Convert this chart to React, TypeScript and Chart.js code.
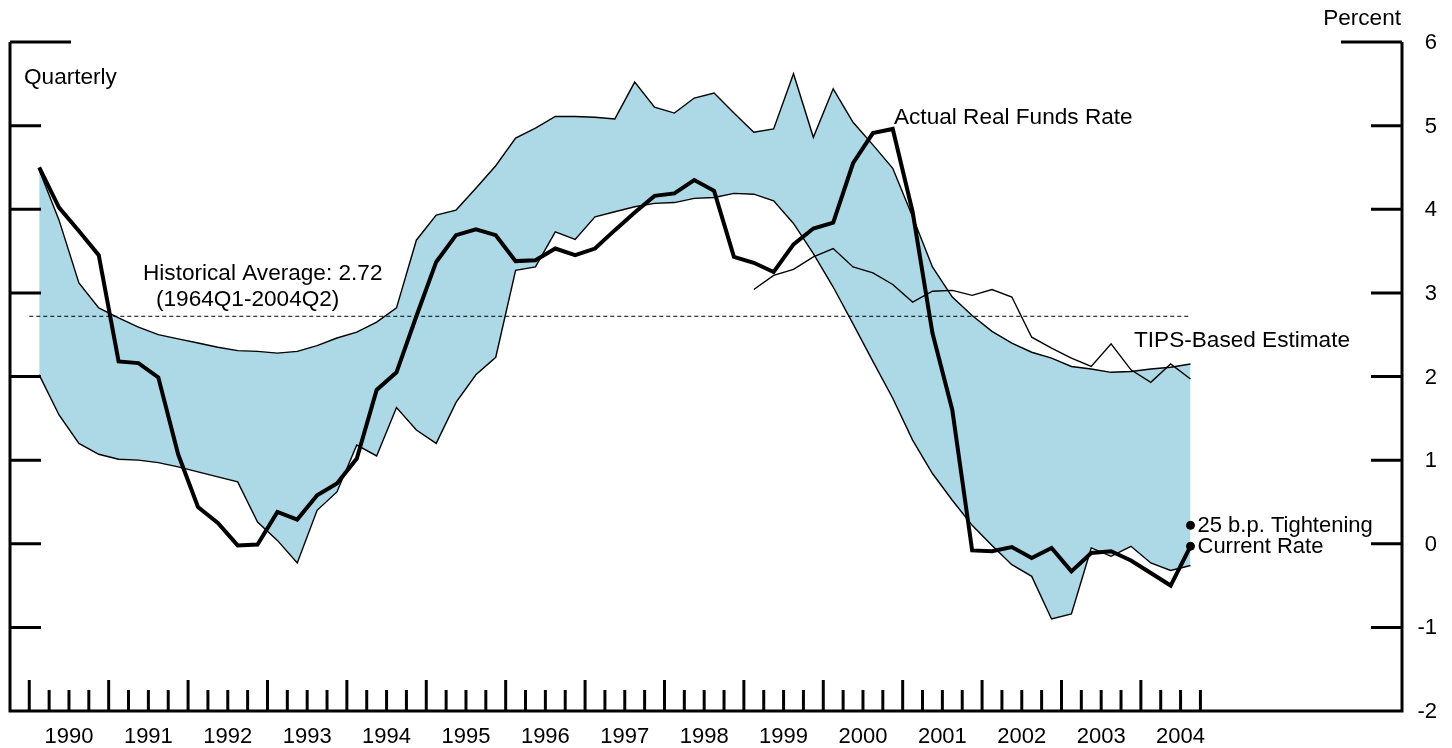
import React, { useEffect, useRef } from "react";
import { Chart, registerables } from "chart.js";

Chart.register(...registerables);

// Quarterly index: 0 = 1990Q1, 58 = 2004Q3
const yearLabels = ["1990", "1991", "1992", "1993", "1994", "1995", "1996", "1997", "1998", "1999", "2000", "2001", "2002", "2003", "2004"];

const actualRealFundsRate = [
  4.5, 4.02, 3.74, 3.45, 2.18, 2.16, 1.99, 1.07, 0.44, 0.25,
  -0.02, -0.01, 0.38, 0.29, 0.58, 0.72, 1.02, 1.84, 2.05, 2.72,
  3.37, 3.69, 3.76, 3.69, 3.38, 3.39, 3.53, 3.45, 3.53, 3.75,
  3.96, 4.16, 4.19, 4.35, 4.22, 3.43, 3.36, 3.25, 3.58, 3.77,
  3.84, 4.55, 4.91, 4.96, 3.97, 2.52, 1.6, -0.08, -0.09, -0.04,
  -0.17, -0.05, -0.33, -0.11, -0.09, -0.2, -0.35, -0.5, -0.03,
];

const bandUpper = [
  4.47, 3.87, 3.12, 2.82, 2.7, 2.59, 2.5, 2.45, 2.4, 2.35,
  2.31, 2.3, 2.28, 2.3, 2.37, 2.46, 2.53, 2.65, 2.82, 3.63,
  3.93, 3.99, 4.25, 4.52, 4.85, 4.97, 5.11, 5.11, 5.1, 5.08,
  5.52, 5.22, 5.15, 5.33, 5.39, 5.15, 4.92, 4.96, 5.62, 4.86,
  5.44, 5.04, 4.77, 4.49, 3.91, 3.31, 2.95, 2.73, 2.54, 2.4,
  2.29, 2.22, 2.12, 2.09, 2.05, 2.06, 2.09, 2.11, 2.15,
];

const bandLower = [
  2.02, 1.54, 1.2, 1.07, 1.01, 1.0, 0.97, 0.92, 0.86, 0.8,
  0.74, 0.26, 0.04, -0.23, 0.4, 0.62, 1.18, 1.05, 1.63, 1.36,
  1.2, 1.69, 2.02, 2.23, 3.27, 3.31, 3.73, 3.64, 3.91, 3.97,
  4.03, 4.07, 4.08, 4.13, 4.14, 4.19, 4.18, 4.1, 3.83, 3.47,
  3.07, 2.63, 2.18, 1.74, 1.24, 0.84, 0.52, 0.22, -0.02, -0.25,
  -0.39, -0.9, -0.84, -0.05, -0.15, -0.03, -0.23, -0.32, -0.26,
];

const tipsStartIndex = 36; // 1999Q1
const tipsEstimate = [
  3.04, 3.21, 3.28, 3.43, 3.53, 3.31, 3.24, 3.1, 2.89, 3.02,
  3.03, 2.97, 3.04, 2.95, 2.47, 2.34, 2.22, 2.12, 2.39, 2.08,
  1.93, 2.15, 1.97,
];

const historicalAverage = 2.72;
const projectionIndex = 58;
const tighteningValue = 0.22;
const currentRateValue = -0.03;

const yTickValues = [6, 5, 4, 3, 2, 1, 0, -1, -2];
const quarterCount = 60; // 1990Q1 .. 2004Q4 tick marks

const FONT = "'Liberation Sans', Arial, Helvetica, sans-serif";
const BAND = "#add8e6";

const toXY = (arr: number[], start = 0) => arr.map((v, i) => ({ x: start + i, y: v }));

const framePlugin = {
  id: "framePlugin",
  afterDraw(chart: any) {
    const { ctx, chartArea, scales } = chart;
    const xs = scales.x;
    const ys = scales.y;
    const { left, right, top, bottom } = chartArea;
    ctx.save();
    ctx.strokeStyle = "#000";
    ctx.fillStyle = "#000";
    ctx.lineCap = "butt";
    ctx.lineWidth = 3;
    // frame
    ctx.beginPath();
    ctx.moveTo(left, top);
    ctx.lineTo(left, bottom);
    ctx.lineTo(right, bottom);
    ctx.lineTo(right, top);
    ctx.stroke();
    // y ticks both sides
    ctx.font = `22px ${FONT}`;
    ctx.textAlign = "right";
    ctx.textBaseline = "middle";
    yTickValues.forEach((v) => {
      const y = ys.getPixelForValue(v);
      if (v !== -2) {
        const len = v === 6 ? 61 : 31;
        ctx.beginPath();
        ctx.moveTo(left, y);
        ctx.lineTo(left + len, y);
        ctx.moveTo(right - len, y);
        ctx.lineTo(right, y);
        ctx.stroke();
      }
      ctx.fillText(String(v), right + 35, y + 1);
    });
    // x ticks
    for (let q = 0; q < quarterCount; q++) {
      const x = xs.getPixelForValue(q - 0.5);
      const len = q % 4 === 0 ? 31 : 21;
      ctx.beginPath();
      ctx.moveTo(x, bottom);
      ctx.lineTo(x, bottom - len);
      ctx.stroke();
    }
    ctx.textAlign = "center";
    ctx.textBaseline = "alphabetic";
    yearLabels.forEach((lab, k) => {
      const x = xs.getPixelForValue(1.5 + 4 * k);
      ctx.fillText(lab, x, bottom + 32);
    });
    // projection labels
    ctx.textAlign = "left";
    const px = xs.getPixelForValue(projectionIndex) + 7;
    ctx.fillText("25 b.p. Tightening", px, ys.getPixelForValue(tighteningValue) + 7);
    ctx.fillText("Current Rate", px, ys.getPixelForValue(currentRateValue) + 7);
    // annotations
    ctx.font = `22.6px ${FONT}`;
    ctx.fillText("Quarterly", left + 14, 84);
    ctx.textAlign = "right";
    ctx.fillText("Percent", right - 1, 25);
    ctx.textAlign = "left";
    ctx.fillText("Historical Average: 2.72", 143, 280);
    ctx.fillText("(1964Q1-2004Q2)", 156, 306);
    ctx.fillText("Actual Real Funds Rate", 894, 124);
    ctx.fillText("TIPS-Based Estimate", 1134, 347);
    ctx.restore();
  },
};

export default function App() {
  const ref = useRef<HTMLCanvasElement | null>(null);
  useEffect(() => {
    if (!ref.current) return;
    const chart = new Chart(ref.current, {
      type: "line",
      data: {
        datasets: [
          {
            label: "Markers",
            type: "scatter" as any,
            data: [
              { x: projectionIndex, y: tighteningValue },
              { x: projectionIndex, y: currentRateValue },
            ],
            pointRadius: 4,
            pointBackgroundColor: "#000",
            pointBorderColor: "#000",
            showLine: false,
            order: -1,
          } as any,
          {
            label: "Actual Real Funds Rate",
            data: toXY(actualRealFundsRate),
            borderColor: "#000",
            borderWidth: 4,
            pointRadius: 0,
            fill: false,
            tension: 0,
            order: 0,
          },
          {
            label: "TIPS-Based Estimate",
            data: toXY(tipsEstimate, tipsStartIndex),
            borderColor: "#000",
            borderWidth: 1.4,
            pointRadius: 0,
            fill: false,
            tension: 0,
            order: 1,
          },
          {
            label: "Band upper",
            data: toXY(bandUpper),
            borderColor: "#000",
            borderWidth: 1.4,
            backgroundColor: BAND,
            pointRadius: 0,
            fill: { target: "+1", above: BAND, below: BAND },
            tension: 0,
            order: 2,
          },
          {
            label: "Band lower",
            data: toXY(bandLower),
            borderColor: "#000",
            borderWidth: 1.4,
            pointRadius: 0,
            fill: false,
            tension: 0,
            order: 2,
          },
          {
            label: "Historical Average",
            data: [
              { x: -0.5, y: historicalAverage },
              { x: projectionIndex, y: historicalAverage },
            ],
            borderColor: "#000",
            borderWidth: 1,
            borderDash: [4, 3],
            pointRadius: 0,
            fill: false,
            order: 3,
          },
        ],
      },
      options: {
        animation: false,
        responsive: false,
        maintainAspectRatio: false,
        events: [],
        layout: { padding: { left: 10, right: 50, top: 42, bottom: 37 } },
        scales: {
          x: { type: "linear", min: -1.471, max: 68.655, display: false },
          y: { type: "linear", min: -2, max: 6, display: false },
        },
        plugins: {
          legend: { display: false },
          tooltip: { enabled: false },
          filler: { drawTime: "beforeDatasetsDraw" },
        } as any,
      },
      plugins: [framePlugin],
    });
    return () => chart.destroy();
  }, []);
  return (
    <div style={{ position: "absolute", left: 0, top: 0, width: 1452, height: 748, background: "#fff" }}>
      <canvas ref={ref} width={1452} height={748} style={{ display: "block" }} />
    </div>
  );
}
